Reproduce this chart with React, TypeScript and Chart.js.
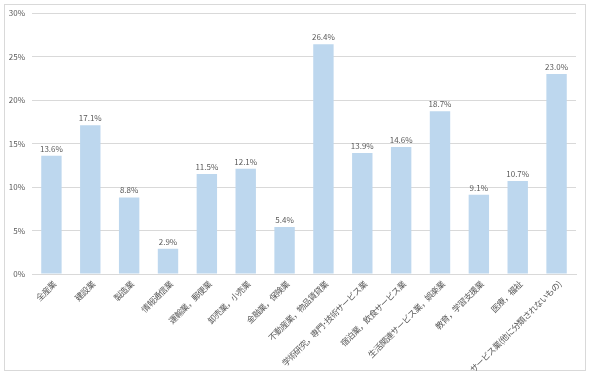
import React, { useEffect, useRef } from "react";
import { Chart, registerables } from "chart.js";

Chart.register(...registerables);

const categories: string[] = [
  "全産業",
  "建設業",
  "製造業",
  "情報通信業",
  "運輸業，郵便業",
  "卸売業，小売業",
  "金融業，保険業",
  "不動産業，物品賃貸業",
  "学術研究，専門･技術サービス業",
  "宿泊業，飲食サービス業",
  "生活関連サービス業，娯楽業",
  "教育，学習支援業",
  "医療，福祉",
  "サービス業(他に分類されないもの)",
];

const values: number[] = [13.6, 17.1, 8.8, 2.9, 11.5, 12.1, 5.4, 26.4, 13.9, 14.6, 18.7, 9.1, 10.7, 23.0];

const yMin = 0;
const yMax = 30;
const yStep = 5;

const FONT = '"Noto Sans CJK JP", "Noto Sans", sans-serif';
const TEXT_COLOR = "#595959";

const dataLabelPlugin = {
  id: "dataLabels",
  afterDatasetsDraw(chart: any) {
    const ctx = chart.ctx;
    const meta = chart.getDatasetMeta(0);
    const ds = chart.data.datasets[0];
    ctx.save();
    ctx.font = `8px ${FONT}`;
    ctx.fillStyle = TEXT_COLOR;
    ctx.textAlign = "center";
    ctx.textBaseline = "bottom";
    meta.data.forEach((bar: any, i: number) => {
      const v = ds.data[i] as number;
      ctx.fillText(v.toFixed(1) + "%", bar.x, bar.y - 3);
    });
    ctx.restore();
  },
};

// tighter letter spacing for the x-axis labels (drawn after datasets, z: 1)
const labelSpacingPlugin = {
  id: "labelSpacing",
  afterDatasetsDraw(chart: any) {
    (chart.ctx as any).letterSpacing = "-0.5px";
  },
  afterDraw(chart: any) {
    (chart.ctx as any).letterSpacing = "0px";
  },
};

export default function App() {
  const ref = useRef<HTMLCanvasElement | null>(null);

  useEffect(() => {
    if (!ref.current) return;
    const chart = new Chart(ref.current, {
      type: "bar",
      data: {
        labels: categories,
        datasets: [
          {
            data: values,
            backgroundColor: "#BDD7EE",
            borderWidth: 0,
            barPercentage: 0.525,
            categoryPercentage: 1,
          },
        ],
      },
      options: {
        responsive: false,
        animation: false,
        devicePixelRatio: 1,
        layout: { padding: { top: 13, right: 14, left: 0, bottom: 0 } },
        plugins: {
          legend: { display: false },
          tooltip: { enabled: false },
        },
        scales: {
          x: {
            grid: { display: false, drawTicks: false },
            border: { display: true, color: "#D9D9D9" },
            ticks: {
              z: 1,
              maxRotation: 45,
              minRotation: 45,
              autoSkip: false,
              padding: 5,
              labelOffset: 3,
              color: TEXT_COLOR,
              font: { size: 8.5, family: FONT },
            },
            afterFit: (scale: any) => {
              scale.height = 103;
            },
          },
          y: {
            min: yMin,
            max: yMax,
            grid: { color: "#D9D9D9", drawTicks: false },
            border: { display: false },
            ticks: {
              stepSize: yStep,
              padding: 7,
              color: TEXT_COLOR,
              font: { size: 8, family: FONT },
              callback: (v: any) => v + "%",
            },
            afterFit: (scale: any) => {
              scale.width = 32;
            },
          },
        },
      },
      plugins: [dataLabelPlugin, labelSpacingPlugin],
    });
    return () => chart.destroy();
  }, []);

  return (
    <div style={{ position: "fixed", left: 0, top: 0, width: 590, height: 377, background: "#fff" }}>
      <div
        style={{
          position: "absolute",
          left: 4,
          top: 4,
          width: 580,
          height: 365,
          border: "1px solid #D9D9D9",
        }}
      />
      <canvas ref={ref} width={590} height={377} style={{ position: "absolute", left: 0, top: 0 }} />
    </div>
  );
}
